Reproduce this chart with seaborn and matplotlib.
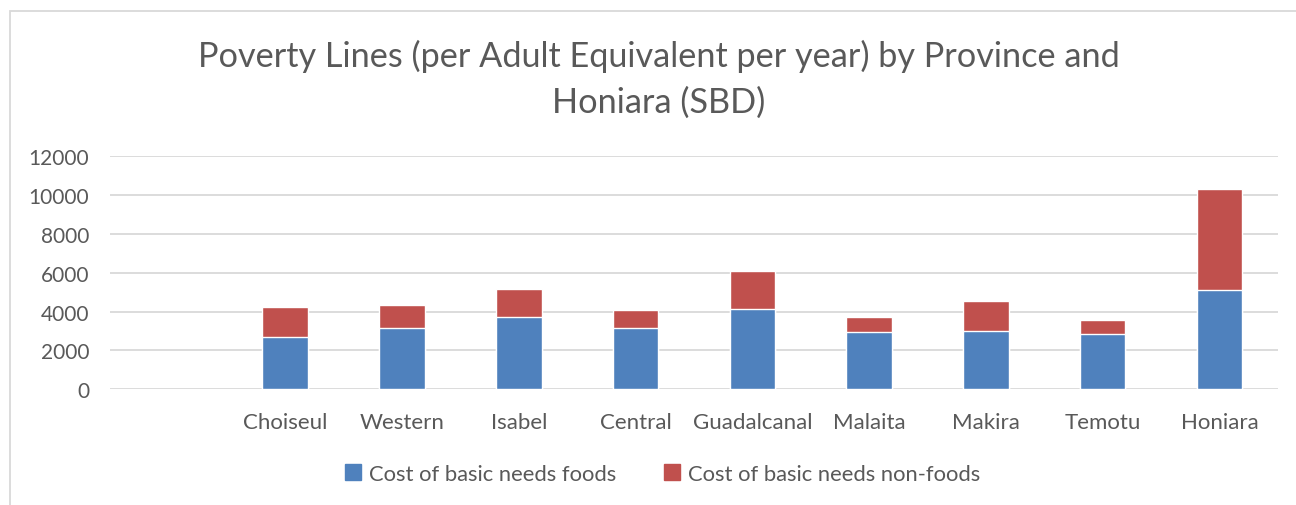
import pandas as pd
import matplotlib.pyplot as plt
import seaborn as sns
from matplotlib.patches import Rectangle, Patch

# Values (SBD per adult equivalent per year)
provinces = ["Choiseul", "Western", "Isabel", "Central", "Guadalcanal",
             "Malaita", "Makira", "Temotu", "Honiara"]
food = [2700, 3130, 3740, 3140, 4120, 2930, 2980, 2830, 5090]
non_food = [1540, 1230, 1400, 960, 1980, 790, 1560, 720, 5220]
y_ticks = [0, 2000, 4000, 6000, 8000, 10000, 12000]

blue = "#4F81BD"
red = "#C0504D"
grey_text = "#595959"

df = pd.DataFrame({"Province": provinces, "Food": food, "NonFood": non_food})
df["Total"] = df["Food"] + df["NonFood"]
# the original chart has an empty first category slot
order = [""] + provinces

sns.set_style("white")
plt.rcParams["font.family"] = ["Lato", "DejaVu Sans"]

fig = plt.figure(figsize=(12.96, 5.06), dpi=100)
ax = fig.add_axes([0.0849, 0.2287, 0.9011, 0.461])

# stacked look: total (red) first, food (blue) drawn over it
sns.barplot(data=df, x="Province", y="Total", order=order, color=red,
            width=0.39, saturation=1, ax=ax, zorder=3)
sns.barplot(data=df, x="Province", y="Food", order=order, color=blue,
            width=0.39, saturation=1, ax=ax, zorder=4)

ax.set_ylim(0, 12000)
ax.set_yticks(y_ticks)
ax.set_yticklabels([str(t) for t in y_ticks])
ax.set_xlim(-0.5, len(order) - 0.5)
ax.yaxis.grid(True, color="#D9D9D9", linewidth=1.3, zorder=0)
ax.set_axisbelow(True)
for s in ax.spines.values():
    s.set_visible(False)
ax.set_xlabel("")
ax.set_ylabel("")
ax.tick_params(axis="both", length=0, colors=grey_text)
ax.tick_params(axis="y", labelsize=15, pad=15)
ax.tick_params(axis="x", labelsize=16, pad=16)

fig.text(0.5081, 0.889, "Poverty Lines (per Adult Equivalent per year) by Province and",
         ha="center", va="center", fontsize=24.7, color=grey_text)
fig.text(0.5081, 0.797, "Honiara (SBD)",
         ha="center", va="center", fontsize=24.7, color=grey_text)

handles = [Patch(color=blue, label="Cost of basic needs foods"),
           Patch(color=red, label="Cost of basic needs non-foods")]
fig.legend(handles=handles, loc="center", bbox_to_anchor=(0.5116, 0.062), ncol=2,
           frameon=False, fontsize=15.8, labelcolor=grey_text,
           handlelength=0.7, handleheight=0.7, handletextpad=0.4, columnspacing=2.17)

# chart area border like the original (cropped on right and bottom)
fig.patches.append(Rectangle((0.0077, -0.1), 1.2, 1.076, transform=fig.transFigure,
                             fill=False, edgecolor="#D9D9D9", linewidth=1.3))

fig.savefig("out.png", dpi=100, facecolor="white")
